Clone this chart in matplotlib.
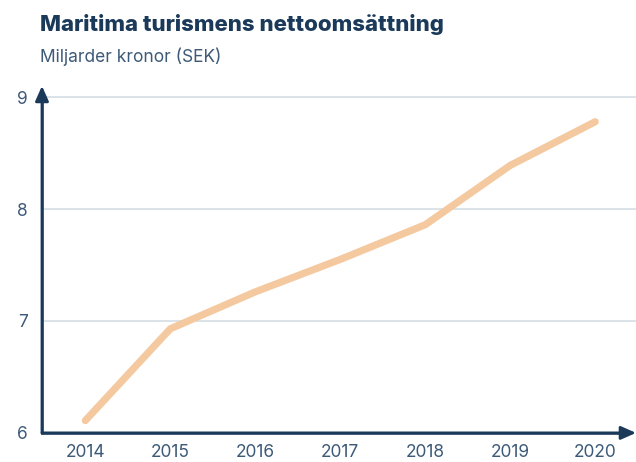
import matplotlib
matplotlib.use('Agg')
import matplotlib.pyplot as plt

# Data
years = [2014, 2015, 2016, 2017, 2018, 2019, 2020]
omsattning = [6.11, 6.93, 7.26, 7.55, 7.86, 8.39, 8.78]
y_ticks = [6, 7, 8, 9]

navy = '#1b3a5a'
axis_col = '#3d5a78'
grid_col = '#d8e1e6'
line_col = '#f5c9a0'

plt.rcParams['font.family'] = ['Inter', 'DejaVu Sans']

fig = plt.figure(figsize=(6.36, 4.62), dpi=100)
ax = fig.add_axes([0.066, 0.063, 0.934, 0.751])

# Gridlines at 7, 8, 9
for v in y_ticks[1:]:
    ax.axhline(v, color=grid_col, lw=1.3, zorder=1)

ax.plot(years, omsattning, color=line_col, lw=5.2, solid_capstyle='round',
        solid_joinstyle='round', zorder=3)

ax.set_xlim(2013.49, 2020.48)
ax.set_ylim(6, 9.1)
ax.set_xticks(years)
ax.set_yticks(y_ticks)
ax.tick_params(length=0, labelsize=12.5, colors=axis_col, pad=8)
ax.tick_params(axis='y', pad=10)

for s in ['top', 'right', 'left', 'bottom']:
    ax.spines[s].set_visible(False)

# Axis arrows
ax.annotate('', xy=(0, 1.0), xytext=(0, 0), xycoords='axes fraction',
            arrowprops=dict(arrowstyle='-|>,head_length=0.9,head_width=0.4',
                            color=navy, lw=2, shrinkA=0, shrinkB=0), zorder=5)
ax.annotate('', xy=(1.0, 0), xytext=(0, 0), xycoords='axes fraction',
            arrowprops=dict(arrowstyle='-|>,head_length=0.9,head_width=0.4',
                            color=navy, lw=2, shrinkA=0, shrinkB=0), zorder=5)
ax.plot([0, 0], [0, 0.97], transform=ax.transAxes, color=axis_col, lw=2,
        clip_on=False, zorder=4)
ax.plot([0, 0.97], [0, 0], transform=ax.transAxes, color=axis_col, lw=2,
        clip_on=False, zorder=4)

fig.text(0.063, 0.947, 'Maritima turismens nettoomsättning', fontsize=16,
         fontweight='heavy', color=navy, va='center')
fig.text(0.063, 0.878, 'Miljarder kronor (SEK)', fontsize=12.5,
         color=axis_col, va='center')

fig.savefig('out.png', dpi=100)
